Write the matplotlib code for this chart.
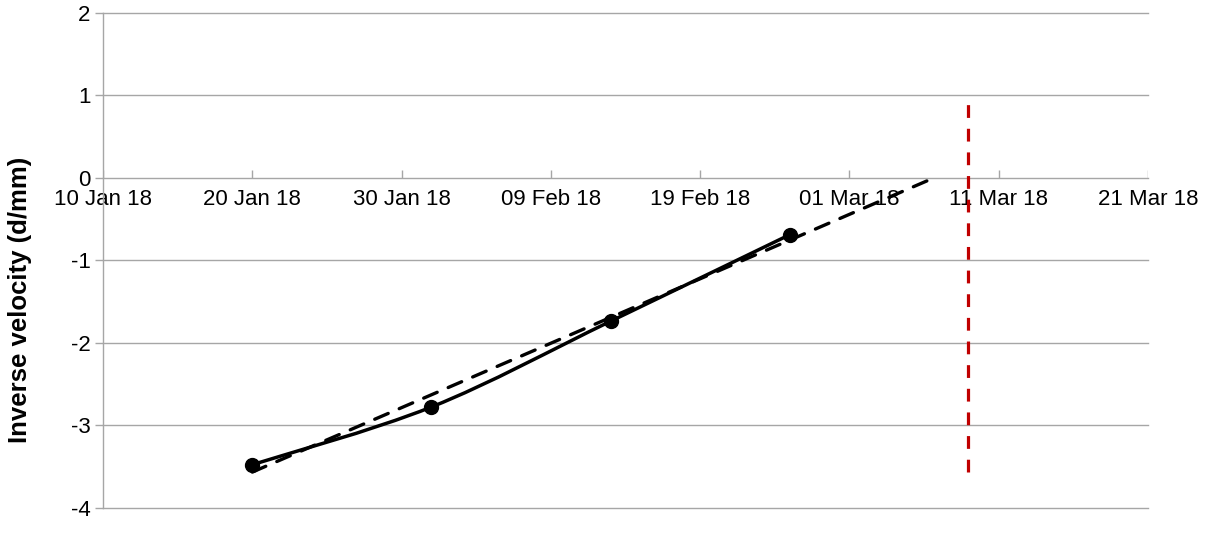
import matplotlib
matplotlib.use("Agg")
import matplotlib.pyplot as plt
import matplotlib.dates as mdates
from matplotlib.path import Path
from matplotlib.patches import PathPatch
import numpy as np

plt.rcParams['font.family'] = ['Liberation Sans', 'DejaVu Sans']

# Observed inverse velocity
obs_dates = ["2018-01-20", "2018-02-01", "2018-02-13", "2018-02-25"]
obs_values = [-3.48, -2.78, -1.74, -0.69]

# Linear trend extrapolated to zero inverse velocity
trend_dates = ["2018-01-20", "2018-03-06T16:00"]
trend_values = [-3.57, 0.0]

# Failure date marker
failure_date = "2018-03-08T22:00"
failure_span = [-3.57, 1.0]

tick_dates = ["2018-01-10", "2018-01-20", "2018-01-30", "2018-02-09",
              "2018-02-19", "2018-03-01", "2018-03-11", "2018-03-21"]
y_ticks = [-4, -3, -2, -1, 0, 1, 2]

GRID = "#a6a6a6"


def to_num(ds):
    return mdates.date2num(np.array(ds, dtype="datetime64[m]"))


fig = plt.figure(figsize=(12.08, 5.33), dpi=100)
ax = fig.add_axes([0.0853, 0.0478, 0.8650, 0.9278])

xt = to_num(tick_dates)
ax.set_xlim(xt[0], xt[-1])
ax.set_ylim(-4, 2)

for y in y_ticks:
    ax.axhline(y, color=GRID, lw=1.0, zorder=1, clip_on=False)

# Smoothed observed curve (cubic Bezier segments, Catmull-Rom style)
ox = to_num(obs_dates)
oy = np.array(obs_values)
pts = np.column_stack([ox, oy])
verts = [pts[0]]
codes = [Path.MOVETO]
n = len(pts)
t = 1.0 / 6.0
for i in range(n - 1):
    p0 = pts[i - 1] if i > 0 else pts[i]
    p1 = pts[i]
    p2 = pts[i + 1]
    p3 = pts[i + 2] if i + 2 < n else pts[i + 1]
    c1 = p1 + (p2 - p0) * t
    c2 = p2 - (p3 - p1) * t
    verts += [c1, c2, p2]
    codes += [Path.CURVE4] * 3
ax.add_patch(PathPatch(Path(verts, codes), transform=ax.transData,
                       fill=False, edgecolor="black", lw=2.5, zorder=4,
                       capstyle="round"))
ax.plot(ox, oy, "o", color="black", ms=10, zorder=5)

tx = to_num(trend_dates)
ax.plot(tx, trend_values, color="black", lw=2.4, ls=(0, (4.4, 3.6)),
        zorder=3, dash_capstyle="round")

fx = to_num([failure_date])[0]
ax.plot([fx, fx], failure_span, color="#c00000", lw=2.3,
        ls=(0, (4.0, 3.4)), zorder=3)

# Spines: left axis line only; the date axis sits on y = 0
for s in ["top", "right", "bottom"]:
    ax.spines[s].set_visible(False)
ax.spines["left"].set_color(GRID)
ax.spines["left"].set_linewidth(1.0)

ax.set_yticks(y_ticks)
ax.set_yticklabels([str(v) for v in y_ticks])
ax.tick_params(axis="y", length=6, width=1.0, color=GRID,
               labelsize=16, pad=3)
ax.set_xticks([])

labels = [np.datetime64(d).astype(object).strftime("%d %b %y") for d in tick_dates]
for x, lab in zip(xt, labels):
    ax.text(x, -0.14, lab, ha="center", va="top", fontsize=16, zorder=2,
            clip_on=False)
ax.vlines(xt, 0.0, 0.09, color=GRID, lw=1.0, zorder=1)

fig.text(20 / 1208, 1 - 300 / 533, "Inverse velocity (d/mm)", rotation=90,
         ha="center", va="center", fontsize=18.5, fontweight="bold")

fig.savefig("out.png", dpi=100)
